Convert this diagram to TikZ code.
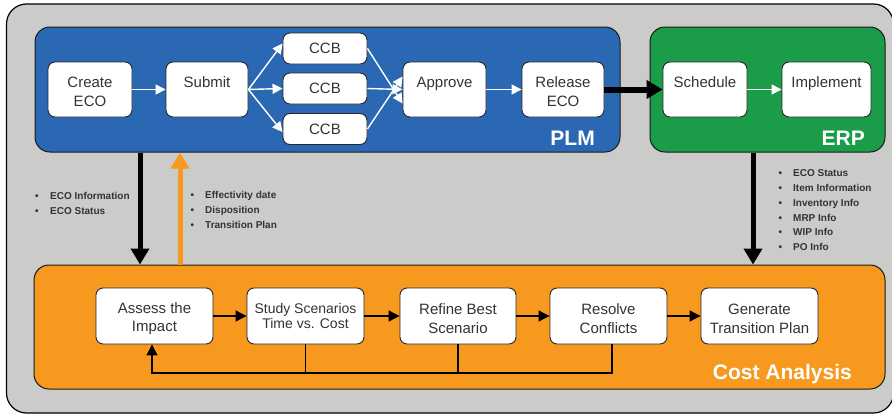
\documentclass[tikz,border=0pt]{standalone}
\usepackage{fontspec}
\setmainfont{Liberation Sans}
\usetikzlibrary{arrows.meta}
\definecolor{bgGray}{HTML}{CBCBC9}
\definecolor{plmBlue}{HTML}{2B68B3}
\definecolor{erpGreen}{HTML}{1A9C48}
\definecolor{costOrange}{HTML}{F7981F}
\definecolor{txtGray}{HTML}{333333}
\newcommand{\toprl}{\rule{0pt}{15pt}}
\newcommand{\toprlc}{\rule{0pt}{16.5pt}}
\begin{document}
\begin{tikzpicture}[x=1pt,y=-1pt,
  panel/.style={draw=black!90, line width=1pt, rounded corners=15pt, inner sep=0pt},
  box/.style={draw=black!85, line width=0.9pt, fill=white, rounded corners=7pt, inner sep=0pt,
    align=center, font=\fontsize{15}{18.5}\selectfont, text=txtGray, minimum height=55pt},
  ccbbox/.style={box, minimum width=84pt, minimum height=31pt},
  wArrow/.style={draw=white, line width=1.4pt, -{Triangle[length=10pt,width=10pt]}},
  kArrow/.style={draw=black, line width=1.1pt, -{Triangle[length=11pt,width=11pt]}},
  bigArrow/.style={line width=5.5pt, -{Triangle[length=16pt,width=18pt]}},
  fbline/.style={draw=black, line width=1.1pt},
  ttl/.style={text=white, font=\fontsize{21}{21}\selectfont\bfseries, inner sep=0pt, anchor=base east},
  bul/.style={text=txtGray, font=\fontsize{10}{14.8}\selectfont\bfseries, align=left, inner sep=0pt, anchor=north west}
]
\useasboundingbox (0,0) rectangle (892,415);
% outer background
\node[draw=black, line width=1.2pt, fill=bgGray, rounded corners=20pt, minimum width=887pt, minimum height=409pt] (outer) at (450,208.5) {};

% panels
\node[panel, fill=plmBlue, minimum width=585pt, minimum height=125pt] (plm) at (327.5,89.5) {};
\node[panel, fill=erpGreen, minimum width=235pt, minimum height=125pt] (erp) at (767.5,89.5) {};
\node[panel, fill=costOrange, minimum width=851pt, minimum height=124pt] (cost) at (459.5,327) {};

\node[ttl] (plmT) at (595,145) {PLM};
\node[ttl] (erpT) at (865,145) {ERP};
\node[ttl] (costT) at (852,379) {Cost Analysis};

% PLM boxes
\node[box, minimum width=84pt] (create) at (90,89.5) {\toprl Create\\ECO};
\node[box, minimum width=82pt] (submit) at (207,89.5) {\toprl Submit\\\mbox{}};
\node[ccbbox] (ccb1) at (325,48.5) {CCB};
\node[ccbbox] (ccb2) at (325,88.5) {CCB};
\node[ccbbox] (ccb3) at (325,129) {CCB};
\node[box, minimum width=83pt] (approve) at (444.5,89.5) {\toprl Approve\\\mbox{}};
\node[box, minimum width=82pt] (release) at (563,89.5) {\toprl Release\\ECO};
% ERP boxes
\node[box, minimum width=84pt] (schedule) at (705,89.5) {\toprl Schedule\\\mbox{}};
\node[box, minimum width=89pt] (implement) at (826.5,89.5) {\toprl Implement\\\mbox{}};

% PLM/ERP arrows
\draw[wArrow] (create.east) -- (submit.west);
\draw[wArrow] (submit.east) -- ([yshift=5pt]ccb1.west);
\draw[wArrow] (submit.east) -- (ccb2.west);
\draw[wArrow] (submit.east) -- ([yshift=-3pt]ccb3.west);
\draw[wArrow] (ccb1.east) -- ([yshift=-14pt]approve.west);
\draw[wArrow] (ccb2.east) -- (approve.west);
\draw[wArrow] (ccb3.east) -- ([yshift=13pt]approve.west);
\draw[wArrow] (approve.east) -- (release.west);
\draw[bigArrow, draw=black, line width=6pt] (release.east) -- (schedule.west);
\draw[wArrow] (schedule.east) -- (implement.west);

% Cost boxes
\node[box, minimum width=117pt, minimum height=56pt] (assess) at (154.5,316) {\toprlc Assess the\\Impact};
\node[box, minimum width=117pt, minimum height=56pt, font=\fontsize{14}{15.5}\selectfont] (study) at (305.5,316) {Study Scenarios\\Time vs. Cost};
\node[box, minimum width=116pt, minimum height=56pt] (refine) at (458,316) {\toprlc Refine Best\\Scenario};
\node[box, minimum width=117pt, minimum height=56pt] (resolve) at (608.5,316) {\toprlc Resolve\\Conflicts};
\node[box, minimum width=117pt, minimum height=56pt] (generate) at (759.5,316) {\toprlc Generate\\Transition Plan};

\draw[kArrow] (assess.east) -- (study.west);
\draw[kArrow] (study.east) -- (refine.west);
\draw[kArrow] (refine.east) -- (resolve.west);
\draw[kArrow] (resolve.east) -- (generate.west);

% feedback loop
\coordinate (fbL) at (152,373);
\draw[fbline] (study.south) -- (study.south |- fbL);
\draw[fbline] (refine.south) -- (refine.south |- fbL);
\draw[kArrow] ([xshift=3.5pt]resolve.south) |- (fbL) -- (fbL |- assess.south);

% vertical connectors
\coordinate (xA) at (140,0);
\coordinate (xB) at (180,0);
\coordinate (xC) at (753,0);
\draw[bigArrow, draw=black, line width=5pt] (plm.south -| xA) -- (cost.north -| xA);
\draw[bigArrow, draw=costOrange, line width=5pt] (cost.north -| xB) -- (plm.south -| xB);
\draw[bigArrow, draw=black, line width=5pt] (erp.south -| xC) -- (cost.north -| xC);

% bullet lists
\node[bul] (listA) at (35,192.3) {\makebox[15pt][l]{\textbullet}ECO Information\\\makebox[15pt][l]{\textbullet}ECO Status};
\node[bul] (listB) at (190.5,191.3) {\makebox[14.5pt][l]{\textbullet}Effectivity date\\\makebox[14.5pt][l]{\textbullet}Disposition\\\makebox[14.5pt][l]{\textbullet}Transition Plan};
\node[bul] (listC) at (778.5,169.6) {\makebox[14.5pt][l]{\textbullet}ECO Status\\\makebox[14.5pt][l]{\textbullet}Item Information\\\makebox[14.5pt][l]{\textbullet}Inventory Info\\\makebox[14.5pt][l]{\textbullet}MRP Info\\\makebox[14.5pt][l]{\textbullet}WIP Info\\\makebox[14.5pt][l]{\textbullet}PO Info};
\end{tikzpicture}
\end{document}
